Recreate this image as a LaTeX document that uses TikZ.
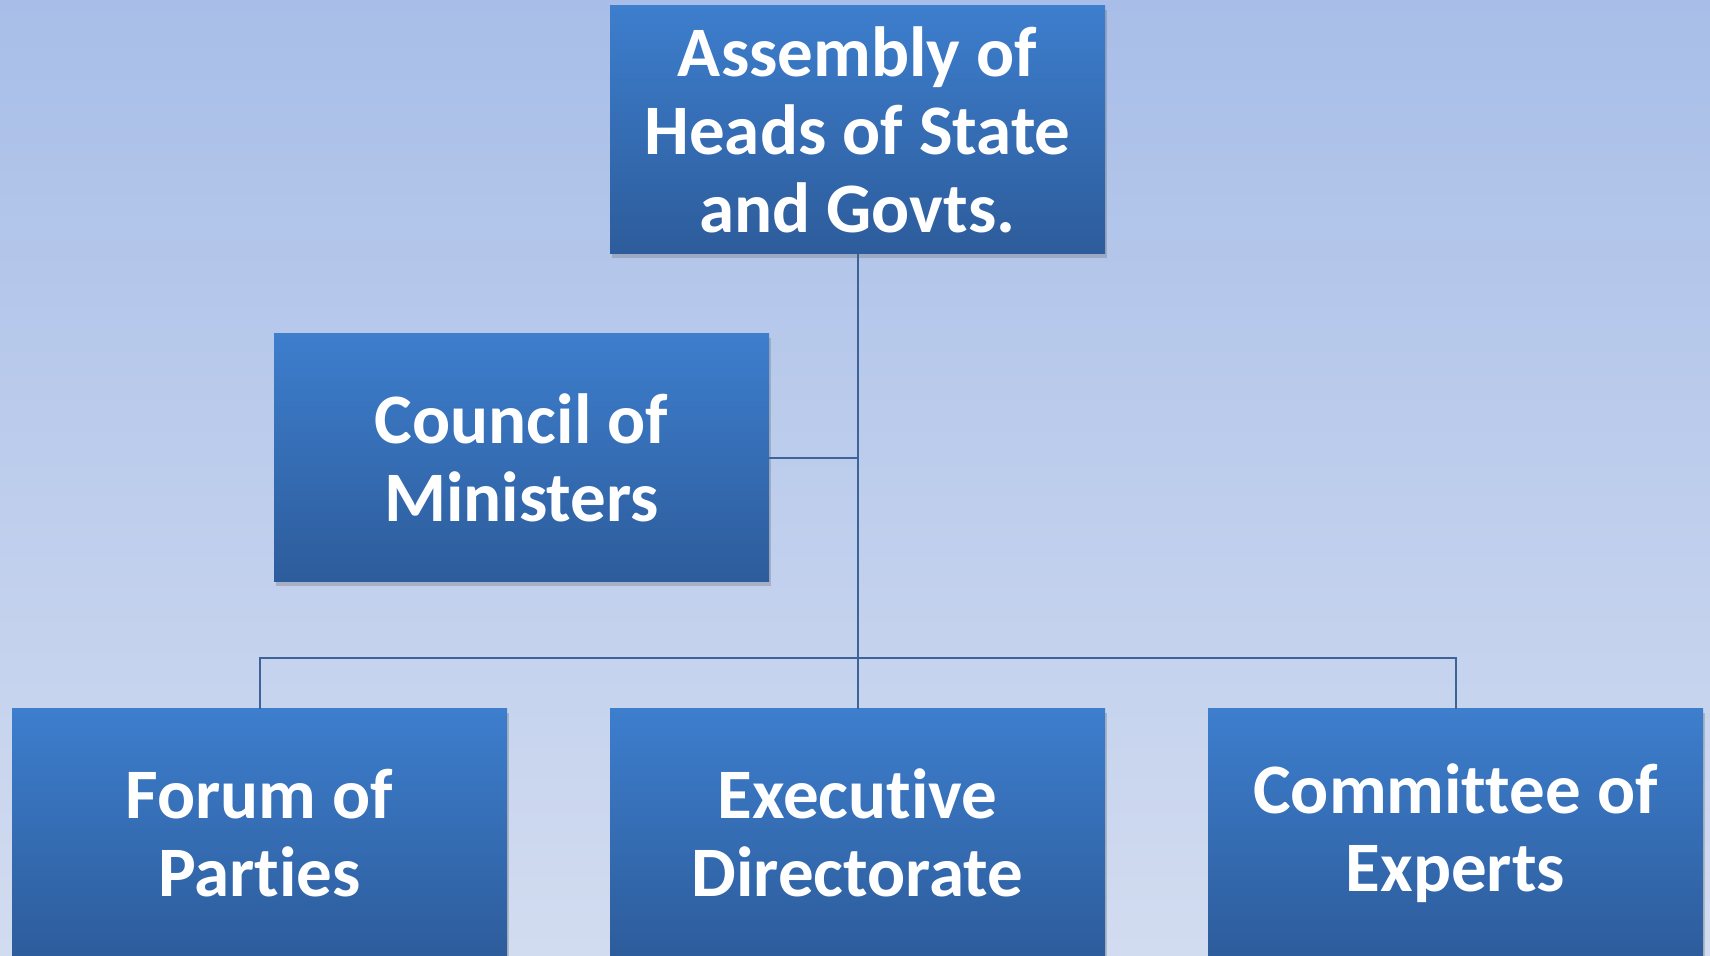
\documentclass[tikz,border=0pt]{standalone}
\usepackage{fontspec}
\setmainfont[Ligatures=NoCommon]{Carlito}
\usetikzlibrary{shadows}
\definecolor{bgtop}{HTML}{A8BEE8}
\definecolor{bgbot}{HTML}{D2DCF0}
\definecolor{boxtop}{HTML}{3D7ECD}
\definecolor{boxbot}{HTML}{2D5C9B}
\definecolor{linec}{HTML}{3D6399}
\tikzset{
  orgbox/.style={rectangle, inner sep=0pt, minimum width=247.5pt, minimum height=124pt,
    top color=boxtop, bottom color=boxbot, text=white, align=center,
    font=\bfseries\fontsize{35.5}{39}\selectfont,
    drop shadow={shadow xshift=1pt, shadow yshift=-2pt, opacity=0.3, fill=black!60}},
  conn/.style={draw=linec, line width=1pt}
}
\begin{document}
\begin{tikzpicture}[x=0.5pt, y=-0.5pt]
\fill[top color=bgtop, bottom color=bgbot] (0,0) rectangle (1710,956);
\useasboundingbox (0,0) rectangle (1710,956);
\node[orgbox] (top) at (857.5,130) {Assembly of\\Heads of State\\and Govts.};
\node[orgbox] (council) at (521.5,458) {Council of\\Ministers};
\node[orgbox] (forum) at (259.5,833) {Forum of\\Parties};
\node[orgbox] (exec) at (857.5,833) {Executive\\Directorate};
\node[orgbox] (comm) at (1455.5,833) {Committee of\\Experts};
\coordinate (bus) at (857.5,658);
\draw[conn] (top.south) -- (exec.north);
\draw[conn] (council.east) -- (council.east -| top.south);
\draw[conn] (forum.north) |- (bus) -| (comm.north);
\end{tikzpicture}
\end{document}
